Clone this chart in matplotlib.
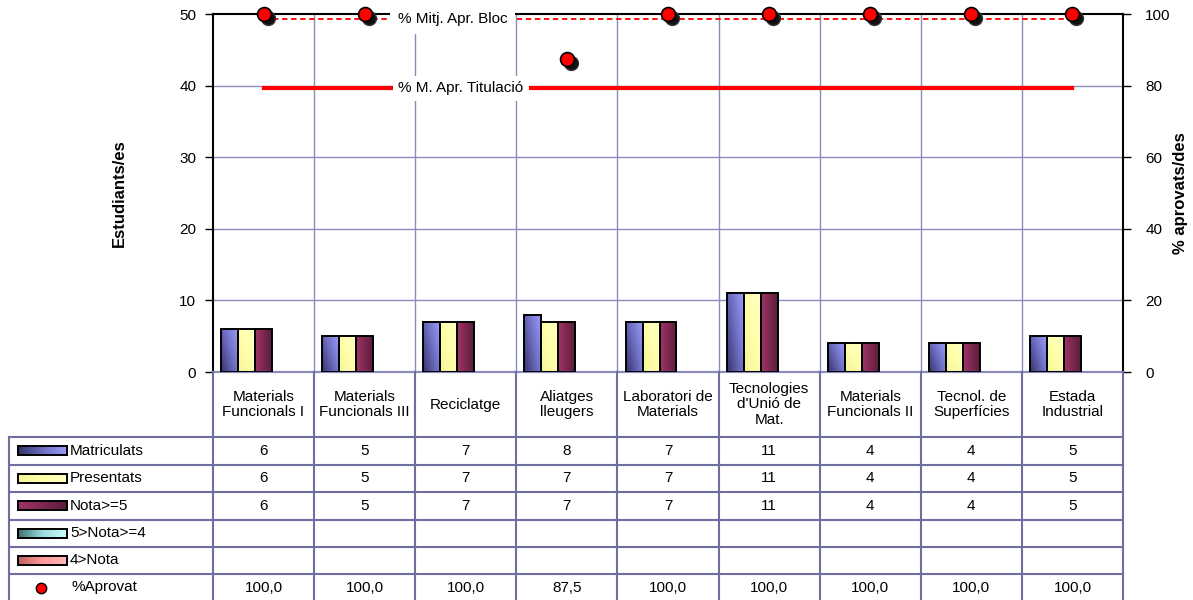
import numpy as np
import matplotlib
matplotlib.use("Agg")
import matplotlib.pyplot as plt
from matplotlib.transforms import blended_transform_factory, offset_copy
from matplotlib.colors import LinearSegmentedColormap
from matplotlib.lines import Line2D

# ---------------- data ----------------
categories = ["Materials\nFuncionals I", "Materials\nFuncionals III", "Reciclatge",
              "Aliatges\nlleugers", "Laboratori de\nMaterials", "Tecnologies\nd'Unió de\nMat.",
              "Materials\nFuncionals II", "Tecnol. de\nSuperfícies", "Estada\nIndustrial"]
matriculats = [6, 5, 7, 8, 7, 11, 4, 4, 5]
presentats = [6, 5, 7, 7, 7, 11, 4, 4, 5]
nota5 = [6, 5, 7, 7, 7, 11, 4, 4, 5]
nota4 = [None] * 9
nota_low = [None] * 9
pct_aprovat = [100.0, 100.0, 100.0, 87.5, 100.0, 100.0, 100.0, 100.0, 100.0]
mitj_titulacio = 79.3
series_names = ["Matriculats", "Presentats", "Nota>=5", "5>Nota>=4", "4>Nota"]
left_ticks = [0, 10, 20, 30, 40, 50]
right_ticks = [0, 20, 40, 60, 80, 100]

# ---------------- style ----------------
plt.rcParams['font.family'] = ['Liberation Sans', 'DejaVu Sans']
W, H = 1193, 600
GRID = '#8C8CBC'
TABLE = '#6E6EA2'
FS = 11

cmaps = [
    LinearSegmentedColormap.from_list('m', ['#34346A', '#6C6CC0', '#9C9CFA']),
    LinearSegmentedColormap.from_list('p', ['#F4F49A', '#FFFFAA', '#FFFFC4']),
    LinearSegmentedColormap.from_list('n', ['#5A1C3C', '#7E2850', '#A03466']),
    LinearSegmentedColormap.from_list('c', ['#3C7070', '#9ADCDC', '#CCFFFF']),
    LinearSegmentedColormap.from_list('r', ['#C06060', '#FF9999', '#FFB8B8']),
]
grad_dirs = [(0.6, 0.4), (0.5, 0.5), (-1.0, 0.0), (0.6, 0.4), (0.6, 0.4)]

fig = plt.figure(figsize=(W / 100, H / 100), dpi=100)

def fx(px):
    return px / W

def fy(py):
    return 1 - py / H

ax_l, ax_r, ax_t, ax_b = 213, 1123, 14, 372
ax = fig.add_axes([fx(ax_l), fy(ax_b), fx(ax_r - ax_l), (ax_b - ax_t) / H])
ax2 = ax.twinx()

n = len(categories)
x = np.arange(n)
ax.set_xlim(-0.5, n - 0.5)
ax.set_ylim(0, 50)
ax2.set_ylim(0, 100)

# gridlines
for v in left_ticks[1:-1]:
    ax.axhline(v, color=GRID, lw=1, zorder=0)
for b in np.arange(0.5, n - 0.5):
    ax.axvline(b, color=GRID, lw=1, zorder=0)

# bars with gradient
bw = 0.168
all_series = [matriculats, presentats, nota5, nota4, nota_low]
yy, xx = np.mgrid[0:1:64j, 0:1:64j]
for i, s in enumerate(all_series):
    vals = [0 if v is None else v for v in s]
    if not any(vals):
        continue
    bars = ax.bar(x + (i - 2) * bw, vals, bw, facecolor='none', edgecolor='black',
                  linewidth=1.4, zorder=3)
    a, bcoef = grad_dirs[i]
    g = a * xx + bcoef * yy
    g = (g - g.min()) / (g.max() - g.min())
    for bar in bars:
        x0 = bar.get_x()
        h = bar.get_height()
        im = ax.imshow(g, extent=[x0, x0 + bw, 0, h], origin='lower', cmap=cmaps[i],
                       aspect='auto', zorder=2, interpolation='bilinear')
        im.set_clip_path(bar)
ax.set_xlim(-0.5, n - 0.5)
ax.set_ylim(0, 50)

# spines / ticks
ax.set_xticks([])
ax.set_yticks(left_ticks)
ax.tick_params(axis='y', direction='out', length=6, width=1, labelsize=FS, pad=6)
ax2.set_yticks(right_ticks)
ax2.tick_params(axis='y', direction='out', length=6, width=1, labelsize=FS, pad=10)
for sp in ['left', 'top']:
    ax.spines[sp].set_linewidth(1.5)
ax.spines['right'].set_visible(False)
ax.spines['bottom'].set_color(GRID)
ax.spines['bottom'].set_linewidth(1.6)
ax2.spines['right'].set_linewidth(1.5)
for sp in ['left', 'top', 'bottom']:
    ax2.spines[sp].set_visible(False)

ax.set_ylabel('Estudiants/es', fontsize=12, fontweight='bold', labelpad=38)
ax2.set_ylabel('% aprovats/des', fontsize=12, fontweight='bold', labelpad=2)

# average lines
mitj_bloc = float(np.mean(pct_aprovat))
ax2.plot([x[0], x[-1]], [mitj_bloc, mitj_bloc], color='red', lw=1.3, ls=(0, (3, 2)), zorder=3)
ax2.plot([x[0], x[-1]], [mitj_titulacio, mitj_titulacio], color='red', lw=3, zorder=3)
ax2.text(1.33, mitj_bloc, '% Mitj. Apr. Bloc', fontsize=FS, ha='left', va='center', zorder=8,
         bbox=dict(facecolor='white', edgecolor='none', pad=5.5))
ax2.text(1.33, mitj_titulacio, '% M. Apr. Titulació', fontsize=FS, ha='left', va='center', zorder=8,
         bbox=dict(facecolor='white', edgecolor='none', pad=4))

# markers with shadow
shadow = offset_copy(ax2.transData, fig=fig, x=4, y=-4, units='dots')
ax2.plot(x, pct_aprovat, 'o', ms=10, color='#111111', mec='#333333', transform=shadow,
         zorder=5, clip_on=False)
ax2.plot(x, pct_aprovat, 'o', ms=10, color='red', mec='black', mew=1.2, zorder=6, clip_on=False)

# ---------------- data table ----------------
bt = blended_transform_factory(ax.transData, fig.transFigure)
rows_py = [372, 437, 464.5, 492, 519.5, 546.5, 574, 601]
tab_left = 9
edges = np.arange(-0.5, n, 1.0)

# vertical lines in the table
for e in edges:
    fig.add_artist(Line2D([e, e], [fy(ax_b), fy(610)], transform=bt, color=TABLE, lw=1.5))
fig.add_artist(Line2D([fx(tab_left)] * 2, [fy(rows_py[1]), fy(610)], transform=fig.transFigure,
                      color=TABLE, lw=1.5))
pos = ax.get_position()
for py in rows_py[1:-1]:
    fig.add_artist(Line2D([fx(tab_left), pos.x1], [fy(py)] * 2, transform=fig.transFigure,
                          color=TABLE, lw=1.5))

# category labels
for xi, c in zip(x, categories):
    fig.text(xi, fy((rows_py[0] + rows_py[1]) / 2), c, transform=bt, ha='center', va='center',
             fontsize=FS, linespacing=1.1)

# value rows
row_vals = [matriculats, presentats, nota5, nota4, nota_low]
for r, vals in enumerate(row_vals):
    cy = fy((rows_py[r + 1] + rows_py[r + 2]) / 2)
    for xi, v in zip(x, vals):
        if v is not None:
            fig.text(xi, cy, str(v), transform=bt, ha='center', va='center', fontsize=FS)
    # legend key
    kax = fig.add_axes([fx(18), cy - 4.5 / H, fx(49), 9 / H])
    a, bcoef = grad_dirs[r]
    kg = np.linspace(0, 1, 64)[None, :] if a >= 0 else np.linspace(1, 0, 64)[None, :]
    kax.imshow(kg, cmap=cmaps[r], aspect='auto', extent=[0, 1, 0, 1])
    kax.set_xticks([])
    kax.set_yticks([])
    for sp in kax.spines.values():
        sp.set_linewidth(1.4)
    fig.text(fx(70), cy, series_names[r], ha='left', va='center', fontsize=FS)

# %Aprovat row
cy = fy((rows_py[6] + rows_py[7]) / 2)
fig.add_artist(Line2D([fx(41)], [cy], marker='o', ms=7.5, color='red', mec='black', mew=1,
                      transform=fig.transFigure))
fig.text(fx(72), cy, '%Aprovat', ha='left', va='center', fontsize=FS)
for xi, v in zip(x, pct_aprovat):
    fig.text(xi, cy, f"{v:.1f}".replace('.', ','), transform=bt, ha='center', va='center',
             fontsize=FS)

fig.savefig('out.png', dpi=100)
